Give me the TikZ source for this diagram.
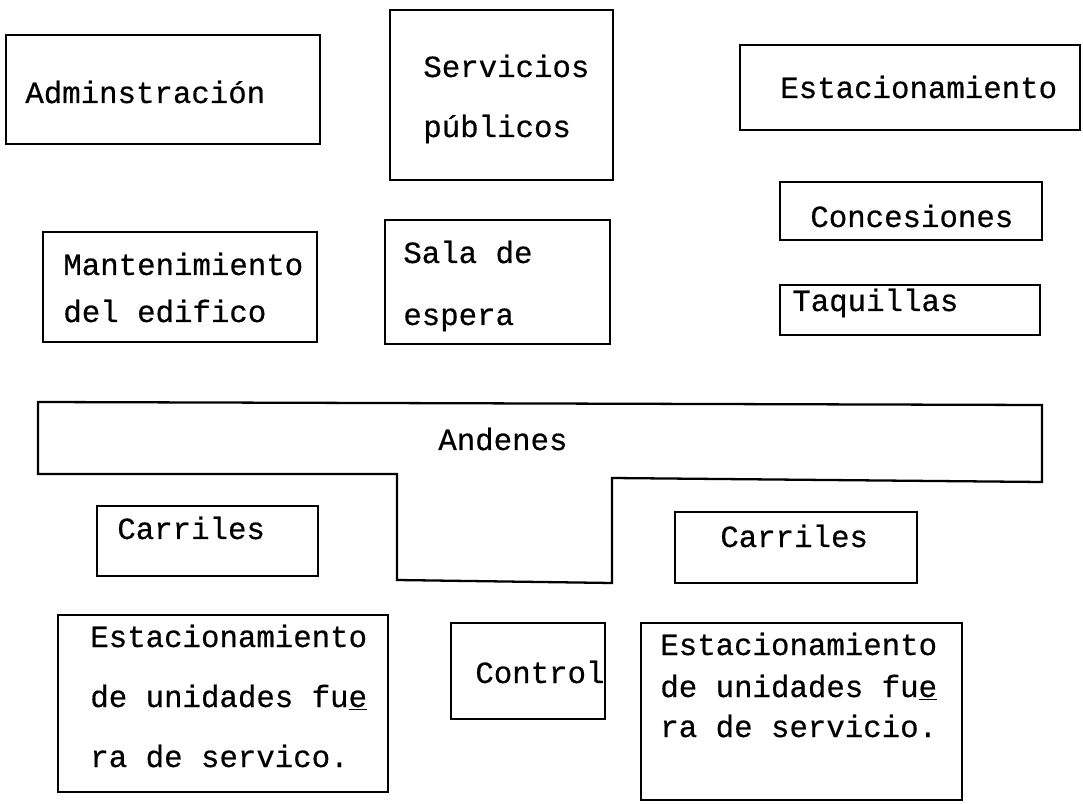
\documentclass[tikz,border=0pt]{standalone}
\usepackage{fontspec}
\newfontfamily\tw[FakeBold=0.5]{Liberation Mono}
\usetikzlibrary{fit}
\begin{document}
\begin{tikzpicture}[x=0.02cm,y=-0.02cm,
  boxst/.style={draw, line width=1.3pt, inner sep=0pt},
  lbl/.style={anchor=base west, inner sep=0pt, font=\tw\fontsize{17.5pt}{20pt}\selectfont}]
\useasboundingbox (0,0) rectangle (1083,804);
% top row
\node[boxst, fit={(6,35) (320,144)}] (adm) {};
\node[lbl] (admt) at (25,103) {Adminstración};
\node[boxst, fit={(390,10) (613,180)}] (serv) {};
\node[lbl] (servt1) at (423,77) {Servicios};
\node[lbl] (servt2) at (423,137) {públicos};
\node[boxst, fit={(740,45) (1080,130)}] (estac) {};
\node[lbl] (estact) at (780,98) {Estacionamiento};
\node[boxst, fit={(780,182) (1042,240)}] (conc) {};
\node[lbl] (conct) at (810,227) {Concesiones};
\node[boxst, fit={(780,285) (1040,335)}] (taq) {};
\node[lbl] (taqt) at (792,311) {Taquillas};
% middle row
\node[boxst, fit={(43,232) (317,342)}] (mant) {};
\node[lbl] (mantt1) at (63,275) {Mantenimiento};
\node[lbl] (mantt2) at (63,322) {del edifico};
\node[boxst, fit={(385,220) (610,344)}] (sala) {};
\node[lbl] (salat1) at (403,263) {Sala de};
\node[lbl] (salat2) at (403,325) {espera};
% Andenes T shape
\draw[line width=1.3pt, line join=miter] (38,402) -- (1042,405) -- (1042,482) -- (612,478)
  -- (612,583) -- (397,580) -- (397,474) -- (38,474) -- cycle;
\node[lbl] (and) at (438,450) {Andenes};
% Carriles
\node[boxst, fit={(97,506) (318,576)}] (carr1) {};
\node[lbl] (carr1t) at (117,539) {Carriles};
\node[boxst, fit={(675,512) (917,583)}] (carr2) {};
\node[lbl] (carr2t) at (720,547) {Carriles};
% bottom row
\node[boxst, fit={(451,623) (605,719)}] (ctrl) {};
\node[lbl] (ctrlt) at (475,683) {Control};
\node[boxst, fit={(58,615) (388,792)}] (est1) {};
\node[lbl] (est1a) at (90,647) {Estacionamiento};
\node[lbl] (est1b) at (90,707) {de unidades fu\underline{e}};
\node[lbl] (est1c) at (90,767) {ra de servico.};
\node[boxst, fit={(641,623) (962,800)}] (est2) {};
\node[lbl] (est2a) at (660,655) {Estacionamiento};
\node[lbl] (est2b) at (660,697) {de unidades fu\underline{e}};
\node[lbl] (est2c) at (660,737) {ra de servicio.};
\end{tikzpicture}
\end{document}
